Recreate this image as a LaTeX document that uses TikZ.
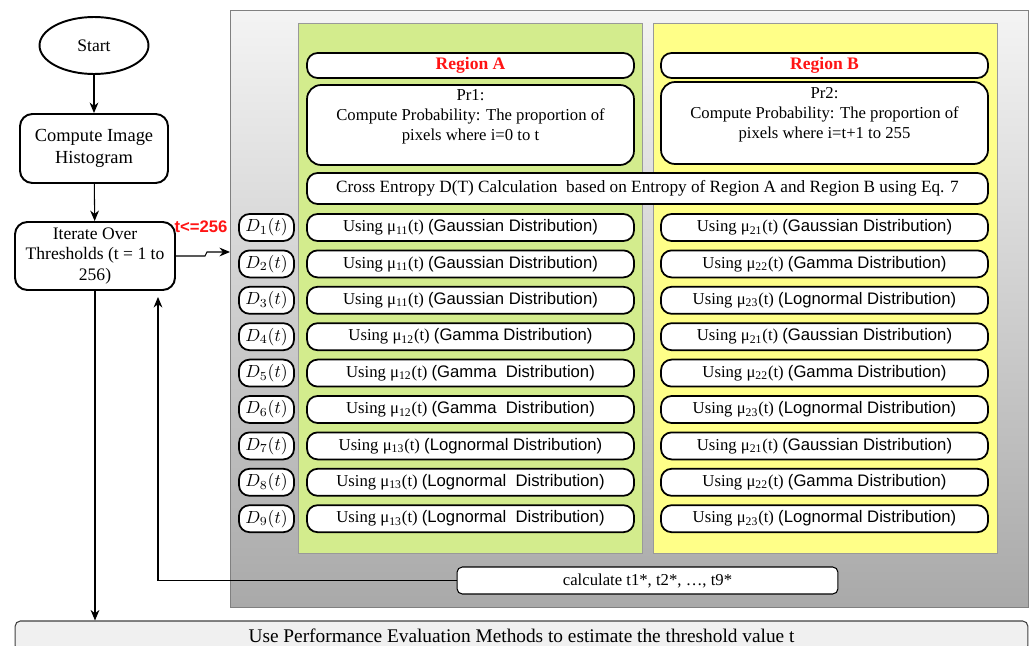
\documentclass[tikz,border=0pt]{standalone}
\usepackage{fontspec}
\setmainfont{Liberation Serif}
\setsansfont{Liberation Sans}
\usetikzlibrary{shapes.geometric,arrows.meta}
\definecolor{regred}{HTML}{FF1414}
\definecolor{greenpan}{HTML}{D3EC8D}
\definecolor{yellowpan}{HTML}{FFFF88}
\definecolor{paneltop}{HTML}{F4F4F4}
\definecolor{panelbot}{HTML}{A9A9A9}
\tikzset{
	flow/.style={draw,line width=1.1pt,rounded corners=7pt,fill=white,align=center,inner sep=1pt,font=\fontsize{10}{11.5}\selectfont},
	rbox/.style={draw,line width=1pt,rounded corners=6pt,fill=white,align=center,minimum width=6.54cm,minimum height=0.54cm,inner sep=0pt,font=\fontsize{9.5}{11.5}\selectfont},
	dbox/.style={draw,line width=1pt,rounded corners=6pt,fill=white,minimum width=1.1cm,minimum height=0.54cm,inner sep=0pt,font=\fontsize{10}{12}\selectfont},
	arr/.style={-{Stealth[length=6pt,width=5pt]},line width=0.6pt},
}
\newcommand{\sfd}[1]{{\sffamily #1}}

\begin{document}
\begin{tikzpicture}[x=0.02cm,y=-0.02cm]
	\useasboundingbox (0,0) rectangle (1035,646);
	\clip (0,0) rectangle (1035,646);
	\node[draw=gray,top color=paneltop,bottom color=panelbot,minimum width=15.96cm,minimum height=11.94cm] (panel) at (629,308.5) {};
	\node[draw=gray!80,fill=greenpan,minimum width=6.88cm,minimum height=10.6cm] (pana) at (470,288) {};
	\node[draw=gray!80,fill=yellowpan,minimum width=6.88cm,minimum height=10.6cm] (panb) at (825,288) {};

	\node[flow,ellipse,minimum width=2.18cm,minimum height=1.14cm] (start) at (94,45.5) {Start};
	\node[flow,minimum width=2.96cm,minimum height=1.38cm,font=\fontsize{10.5}{12.5}\selectfont] (hist) at (94,148.5) {Compute Image\\Histogram};
	\node[flow,minimum width=3.2cm,minimum height=1.36cm] (iter) at (95,256) {Iterate Over\\Thresholds (t = 1 to\\256)};
	\node[text=regred,font=\sffamily\bfseries\fontsize{9.5}{11}\selectfont] (tlab) at (201,227) {t<=256};

	\node[rbox,minimum height=0.5cm,text=regred,font=\bfseries\fontsize{10}{12}\selectfont] (rega) at (470.5,65.5) {Region A};
	\node[rbox,minimum height=0.5cm,text=regred,font=\bfseries\fontsize{10}{12}\selectfont] (regb) at (824.5,65.5) {Region B};
	\node[rbox,minimum height=1.6cm,rounded corners=8pt] (pra) at (470.5,125) {Pr1:\\Compute Probability: The proportion of\\pixels where i=0 to t\\\mbox{}};
	\node[rbox,minimum height=1.64cm,rounded corners=8pt] (prb) at (824.5,123) {Pr2:\\Compute Probability: The proportion of\\pixels where i=t+1 to 255\\\mbox{}};
	\node[rbox,minimum width=13.62cm,minimum height=0.62cm,font=\fontsize{9.8}{11.5}\selectfont] (cross) at (647.5,188.5) {Cross Entropy D(T) Calculation~ based on Entropy of Region A and Region B using Eq. 7};

	\foreach \i/\ma/\da/\mb/\db in {1/11/Gaussian/21/Gaussian,2/11/Gaussian/22/Gamma,3/11/Gaussian/23/Lognormal,
		4/12/Gamma/21/Gaussian,5/12/Gamma~/22/Gamma,6/12/Gamma~/23/Lognormal,
		7/13/Lognormal/21/Gaussian,8/13/Lognormal~/22/Gamma,9/13/Lognormal~/23/Lognormal}{
		\pgfmathsetmacro\y{227.5+36.4*(\i-1)}
		\node[dbox] (d\i) at (266.5,\y) {$D_{\i}(t)$};
		\node[rbox] (a\i) at (470.5,\y) {Using μ\textsubscript{\ma}(t) \sfd{(\da\ Distribution)}};
		\node[rbox] (b\i) at (824.5,\y) {Using μ\textsubscript{\mb}(t) \sfd{(\db\ Distribution)}};
	}

	\node[draw,line width=0.6pt,rounded corners=3pt,fill=white,minimum width=7.62cm,minimum height=0.54cm,font=\fontsize{9.5}{11}\selectfont] (calc) at (647.5,580.5) {calculate t1*, t2*, …, t9*};
	\node[draw=gray!50!black,line width=0.6pt,rounded corners=3pt,fill=gray!12,minimum width=20.26cm,minimum height=0.6cm,font=\fontsize{11}{13}\selectfont] (eval) at (521.5,636) {Use Performance Evaluation Methods to estimate the threshold value t};

	\coordinate (tin) at (230,252);
	\coordinate (fb) at (158,297);
	\draw[arr] (start) -- (hist);
	\draw[arr] (hist) -- (iter);
	\draw[arr] (iter.east) -- (205,256) -- (207,252) -- (tin);
	\draw[arr] (calc.west) -| (fb);
	\draw[arr] (iter.south) -- (iter.south |- eval.north);
\end{tikzpicture}
\end{document}
